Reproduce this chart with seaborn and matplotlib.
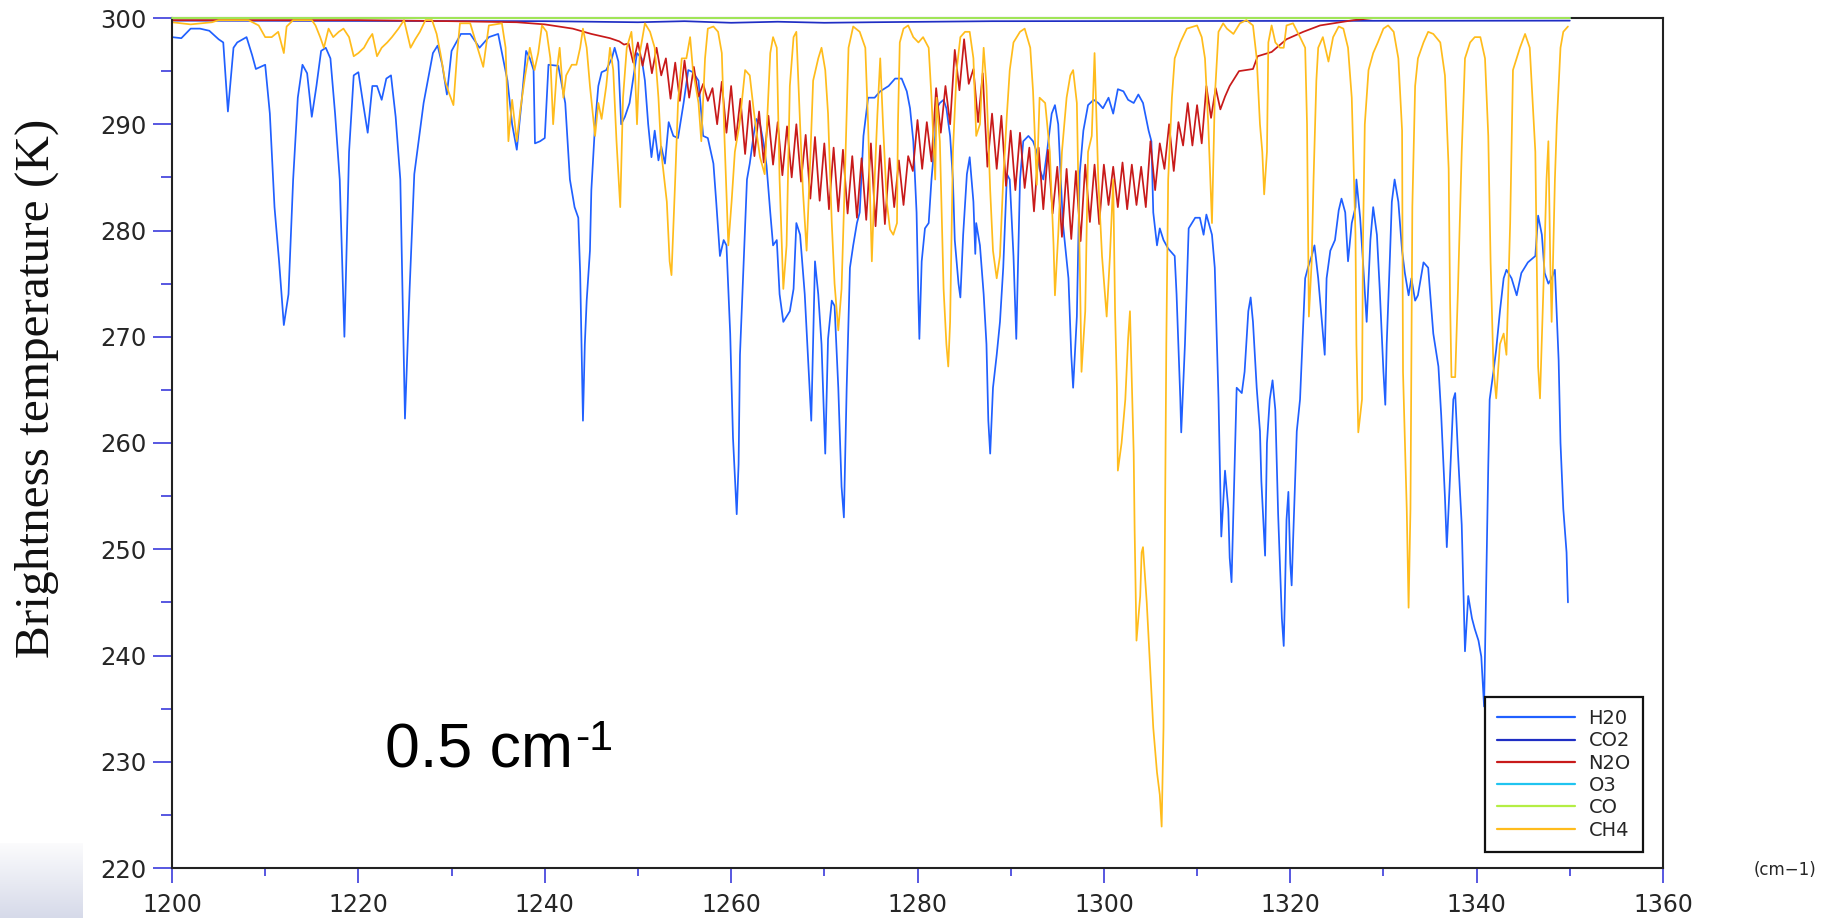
import matplotlib
matplotlib.use("Agg")
import numpy as np
import matplotlib.pyplot as plt
import seaborn as sns
from matplotlib.lines import Line2D
from matplotlib.ticker import MultipleLocator

# ---------------- data ----------------
h2o_wn = [1200.0, 1201.0, 1202.0, 1203.0, 1204.0, 1205.0, 1205.5, 1206.0, 1206.6, 1207.0, 1208.0, 1208.6,
          1209.0, 1209.5, 1210.0, 1210.5, 1211.0, 1211.5, 1212.0, 1212.5, 1213.0, 1213.5, 1214.0, 1214.5,
          1215.0, 1215.5, 1216.0, 1216.5, 1217.0, 1217.5, 1218.0, 1218.5, 1219.0, 1219.5, 1220.0, 1220.5,
          1221.0, 1221.5, 1222.0, 1222.5, 1223.0, 1223.5, 1224.0, 1224.5, 1225.0, 1225.5, 1226.0, 1227.0,
          1228.0, 1228.5, 1229.0, 1229.5, 1230.0, 1231.0, 1232.0, 1233.0, 1234.0, 1235.0, 1236.0, 1236.5,
          1237.0, 1237.5, 1238.0, 1238.4, 1238.8, 1238.95, 1239.5, 1240.0, 1240.4, 1241.45, 1242.2, 1242.7,
          1243.2, 1243.6, 1243.8, 1244.0, 1244.1, 1244.3, 1244.5, 1244.85, 1245.0, 1245.4, 1245.75, 1246.1,
          1246.6, 1247.2, 1247.5, 1247.9, 1248.2, 1248.6, 1249.1, 1249.9, 1250.4, 1250.75, 1251.1, 1251.45,
          1251.8, 1252.2, 1252.5, 1252.9, 1253.3, 1253.8, 1254.3, 1254.9, 1255.4, 1255.9, 1256.5, 1257.0,
          1257.5, 1258.1, 1258.4, 1258.8, 1259.2, 1259.5, 1259.9, 1260.2, 1260.6, 1260.8, 1260.95, 1261.3,
          1261.7, 1262.0, 1262.4, 1262.7, 1263.1, 1263.45, 1263.8, 1264.2, 1264.5, 1264.9, 1265.2, 1265.6,
          1266.3, 1266.7, 1267.0, 1267.4, 1267.9, 1268.3, 1268.6, 1269.0, 1269.35, 1269.7, 1270.1, 1270.4,
          1270.8, 1271.1, 1271.5, 1271.85, 1272.1, 1272.4, 1272.75, 1273.1, 1273.5, 1273.8, 1274.2, 1274.7,
          1275.4, 1276.0, 1276.9, 1277.6, 1278.3, 1278.85, 1279.2, 1279.55, 1279.9, 1280.1, 1280.2, 1280.45,
          1280.8, 1281.2, 1281.5, 1281.9, 1282.05, 1282.4, 1282.8, 1283.1, 1283.5, 1283.8, 1284.0, 1284.4,
          1284.6, 1284.9, 1285.3, 1285.6, 1286.0, 1286.2, 1286.3, 1286.7, 1287.1, 1287.4, 1287.6, 1287.8,
          1288.1, 1288.5, 1288.85, 1289.2, 1289.6, 1289.9, 1290.3, 1290.6, 1291.0, 1291.35, 1291.9, 1292.4,
          1292.8, 1293.1, 1293.5, 1293.9, 1294.4, 1294.75, 1295.1, 1295.6, 1296.2, 1296.5, 1296.7, 1297.1,
          1297.4, 1297.8, 1298.3, 1298.9, 1299.4, 1299.9, 1300.5, 1301.0, 1301.5, 1302.1, 1302.6, 1303.2,
          1303.7, 1304.2, 1304.8, 1305.1, 1305.3, 1305.7, 1306.0, 1306.4, 1306.9, 1307.6, 1307.8, 1308.2,
          1308.3, 1308.7, 1309.1, 1309.8, 1310.3, 1310.7, 1311.0, 1311.6, 1311.9, 1312.3, 1312.6, 1313.0,
          1313.35, 1313.5, 1313.7, 1314.1, 1314.25, 1314.8, 1315.1, 1315.5, 1315.75, 1316.0, 1316.4, 1316.75,
          1316.9, 1317.3, 1317.5, 1317.8, 1318.1, 1318.4, 1318.7, 1319.1, 1319.3, 1319.4, 1319.6, 1319.8,
          1320.0, 1320.15, 1320.3, 1320.7, 1321.05, 1321.2, 1321.6, 1321.9, 1322.3, 1322.6, 1323.0, 1323.4,
          1323.7, 1323.9, 1324.3, 1324.8, 1325.2, 1325.5, 1325.9, 1326.2, 1326.6, 1327.0, 1327.1, 1327.5,
          1327.8, 1328.2, 1328.6, 1328.9, 1329.3, 1329.6, 1330.0, 1330.2, 1330.35, 1330.7, 1330.9, 1331.2,
          1331.6, 1332.0, 1332.3, 1332.7, 1333.0, 1333.4, 1333.7, 1334.3, 1334.8, 1335.35, 1335.9, 1336.2,
          1336.6, 1336.8, 1337.1, 1337.5, 1337.7, 1338.0, 1338.4, 1338.75, 1339.1, 1339.5, 1339.8, 1340.2,
          1340.5, 1340.8, 1341.1, 1341.25, 1341.4, 1341.8, 1342.1, 1342.5, 1342.9, 1343.2, 1343.75, 1344.3,
          1344.8, 1345.5, 1346.3, 1346.6, 1347.0, 1347.3, 1347.7, 1348.05, 1348.4, 1348.8, 1349.0, 1349.3,
          1349.65, 1349.8]
h2o_bt = [298.2, 298.1, 299.0, 299.0, 298.8, 298.0, 297.7, 291.2, 297.2, 297.7, 298.2, 296.5,
          295.2, 295.4, 295.6, 291.0, 282.2, 277.0, 271.1, 274.0, 284.8, 292.5, 295.6, 294.8,
          290.7, 293.6, 296.9, 297.2, 296.2, 291.0, 284.8, 270.0, 287.4, 294.6, 294.9, 292.0,
          289.2, 293.6, 293.6, 292.3, 294.3, 294.6, 290.7, 284.8, 262.3, 274.5, 285.3, 292.0,
          296.7, 297.4, 295.6, 292.8, 296.9, 298.5, 298.5, 297.2, 298.2, 298.5, 294.1, 290.0,
          287.6, 292.0, 296.9, 296.2, 295.1, 288.2, 288.4, 288.7, 295.6, 295.5, 292.0, 284.8,
          282.2, 281.2, 276.0, 266.7, 262.1, 269.3, 273.4, 278.1, 283.8, 290.0, 293.6, 294.9,
          295.1, 296.2, 297.2, 295.9, 290.0, 290.7, 292.0, 296.7, 296.2, 294.1, 290.0, 286.9,
          289.4, 286.6, 287.9, 286.3, 290.2, 288.9, 288.7, 292.0, 295.1, 294.9, 294.1, 288.9,
          288.7, 286.3, 282.7, 277.6, 279.1, 278.6, 270.3, 260.5, 253.3, 258.0, 268.3, 276.0,
          284.8, 286.3, 288.9, 290.5, 290.0, 288.4, 286.1, 281.7, 278.6, 279.1, 274.0, 271.4,
          272.4, 274.5, 280.7, 279.6, 274.0, 267.2, 262.1, 277.1, 274.0, 269.3, 259.0, 269.8,
          273.4, 272.9, 265.2, 255.9, 253.0, 265.2, 276.5, 278.6, 280.7, 281.7, 288.9, 292.5,
          292.5, 293.1, 293.6, 294.3, 294.3, 293.1, 291.5, 288.4, 281.7, 273.4, 269.8, 277.1,
          280.2, 280.7, 284.8, 288.9, 291.5, 292.0, 292.3, 291.5, 288.9, 284.8, 279.1, 275.0,
          273.7, 279.6, 285.3, 286.9, 282.7, 277.8, 280.7, 278.6, 274.0, 269.3, 262.1, 259.0,
          265.2, 268.3, 271.4, 276.5, 285.3, 284.8, 277.6, 269.8, 284.8, 288.4, 288.9, 288.4,
          287.4, 285.8, 284.8, 287.4, 291.0, 291.8, 290.0, 280.7, 275.5, 268.3, 265.2, 271.9,
          285.3, 289.4, 291.8, 292.3, 292.0, 291.5, 292.5, 291.0, 293.3, 293.1, 292.3, 292.0,
          292.8, 292.0, 289.4, 288.4, 281.7, 278.6, 280.2, 279.1, 278.3, 277.6, 274.0, 264.2,
          261.0, 269.3, 280.2, 281.2, 281.2, 279.6, 281.5, 279.6, 276.5, 264.2, 251.2, 257.4,
          253.8, 249.2, 246.9, 260.5, 265.2, 264.7, 266.7, 272.4, 273.7, 271.4, 265.2, 261.1,
          256.4, 249.4, 260.0, 264.1, 265.9, 263.1, 253.3, 243.5, 240.9, 244.5, 252.8, 255.4,
          248.7, 246.6, 250.7, 261.1, 264.1, 267.2, 275.5, 276.5, 277.6, 278.6, 275.5, 271.4,
          268.3, 275.5, 278.1, 279.1, 281.9, 283.0, 281.7, 277.1, 280.7, 282.2, 284.8, 281.2,
          277.1, 271.4, 279.1, 282.2, 279.6, 274.5, 266.7, 263.6, 269.3, 277.6, 282.7, 284.8,
          282.7, 278.1, 276.0, 273.9, 275.5, 273.4, 273.9, 277.0, 276.5, 270.3, 267.2, 262.6,
          254.9, 250.2, 255.9, 264.1, 264.7, 259.0, 252.3, 240.4, 245.6, 243.5, 242.5, 241.4,
          239.9, 235.2, 250.2, 257.9, 264.1, 266.7, 268.8, 272.4, 275.5, 276.3, 275.5, 273.9,
          276.0, 277.0, 277.6, 281.4, 279.6, 276.0, 275.0, 275.5, 276.3, 267.8, 260.0, 253.8,
          249.7, 245.0]

co2_wn = [1200.0, 1240.0, 1250.0, 1255.0, 1260.0, 1265.0, 1270.0, 1275.0, 1288.0, 1350.0]
co2_bt = [299.75, 299.7, 299.6, 299.7, 299.55, 299.65, 299.55, 299.6, 299.7, 299.75]

n2o_wn = [1200.0, 1210.0, 1220.0, 1230.0, 1237.0, 1240.0, 1243.0, 1245.0, 1247.0, 1248.0, 1248.5,
          1249.0, 1249.5, 1250.0, 1250.5, 1251.0, 1251.5, 1252.0, 1252.5, 1253.0, 1253.5, 1254.0, 1254.5,
          1255.0, 1255.5, 1256.0, 1256.5, 1257.0, 1257.5, 1258.0, 1258.5, 1259.0, 1259.5, 1260.0, 1260.5,
          1261.0, 1261.5, 1262.0, 1262.5, 1263.0, 1263.5, 1264.0, 1264.5, 1265.0, 1265.5, 1266.0, 1266.5,
          1267.0, 1267.5, 1268.0, 1268.5, 1269.0, 1269.5, 1270.0, 1270.5, 1271.0, 1271.5, 1272.0, 1272.5,
          1273.0, 1273.5, 1274.0, 1274.5, 1275.0, 1275.5, 1276.0, 1276.5, 1277.0, 1277.5, 1278.0, 1278.5,
          1279.0, 1279.5, 1280.0, 1280.5, 1281.0, 1281.5, 1282.0, 1282.5, 1283.0, 1283.5, 1284.0, 1284.5,
          1285.0, 1285.5, 1286.0, 1286.5, 1287.0, 1287.5, 1288.0, 1288.5, 1289.0, 1289.5, 1290.0, 1290.5,
          1291.0, 1291.5, 1292.0, 1292.5, 1293.0, 1293.5, 1294.0, 1294.5, 1295.0, 1295.5, 1296.0, 1296.5,
          1297.0, 1297.5, 1298.0, 1298.5, 1299.0, 1299.5, 1300.0, 1300.5, 1301.0, 1301.5, 1302.0, 1302.5,
          1303.0, 1303.5, 1304.0, 1304.5, 1305.0, 1305.5, 1306.0, 1306.5, 1307.0, 1307.5, 1308.0, 1308.5,
          1309.0, 1309.5, 1310.0, 1310.5, 1311.0, 1311.5, 1312.0, 1312.5, 1313.0, 1313.5, 1314.5, 1316.0,
          1316.5, 1318.0, 1319.6, 1321.4, 1323.2, 1326.8, 1329.0, 1350.0]
n2o_bt = [299.8, 299.8, 299.8, 299.7, 299.6, 299.4, 299.0, 298.5, 298.1, 297.8, 297.5,
          297.6, 295.8, 297.7, 295.5, 297.6, 294.8, 297.2, 294.6, 296.2, 292.4, 295.8, 292.2,
          296.0, 292.5, 295.4, 292.6, 293.8, 292.2, 293.4, 290.0, 294.0, 289.2, 293.6, 288.5,
          292.4, 287.2, 292.2, 287.0, 291.2, 286.4, 290.8, 286.2, 290.2, 285.2, 289.8, 285.0,
          290.0, 284.6, 289.0, 283.0, 288.8, 282.8, 288.2, 282.0, 287.8, 281.8, 287.6, 281.6,
          287.0, 281.2, 286.8, 281.0, 288.2, 280.4, 288.0, 280.6, 286.8, 282.2, 286.6, 282.4,
          287.0, 285.6, 290.4, 285.8, 290.2, 286.5, 293.4, 289.2, 293.6, 290.0, 297.0, 293.2,
          298.0, 293.8, 295.2, 290.2, 294.8, 286.0, 291.0, 285.8, 290.8, 284.2, 289.4, 283.8,
          289.2, 284.0, 287.8, 281.8, 287.8, 282.0, 287.6, 281.6, 286.0, 279.4, 285.8, 279.2,
          285.6, 279.0, 286.2, 280.8, 286.2, 280.6, 286.2, 282.4, 286.0, 282.2, 286.4, 282.0,
          286.2, 282.4, 286.0, 282.2, 288.4, 283.8, 288.2, 285.8, 290.0, 285.6, 290.2, 288.0,
          292.0, 288.0, 291.8, 288.2, 293.6, 290.6, 293.4, 291.4, 292.6, 293.6, 295.0, 295.2,
          296.4, 296.8, 298.0, 298.7, 299.3, 299.8, 300.0, 300.0]

o3_wn = [1200.0, 1350.0]
o3_bt = [300.0, 300.0]

co_wn = [1200.0, 1350.0]
co_bt = [300.0, 300.0]

ch4_wn = [1200.0, 1202.0, 1204.3, 1205.0, 1208.2, 1209.3, 1210.0, 1210.7, 1211.4, 1212.0, 1212.3, 1213.0,
          1215.0, 1215.4, 1215.9, 1216.3, 1216.8, 1217.3, 1217.9, 1218.4, 1219.0, 1219.5, 1220.0, 1220.6,
          1221.1, 1221.5, 1222.0, 1222.5, 1223.1, 1223.6, 1224.3, 1224.9, 1225.6, 1226.1, 1226.6, 1227.2,
          1227.9, 1228.4, 1228.8, 1229.3, 1229.7, 1230.2, 1230.6, 1230.9, 1232.0, 1233.4, 1234.0, 1235.4,
          1235.8, 1236.1, 1236.5, 1237.0, 1237.4, 1237.9, 1238.4, 1238.9, 1239.3, 1239.7, 1240.2, 1240.6,
          1240.9, 1241.3, 1241.6, 1242.0, 1242.3, 1242.9, 1243.4, 1243.8, 1244.1, 1244.5, 1244.85, 1245.4,
          1245.75, 1246.1, 1246.6, 1247.0, 1247.35, 1247.7, 1248.1, 1248.4, 1248.8, 1249.3, 1249.7, 1249.9,
          1250.2, 1250.75, 1251.3, 1251.8, 1252.2, 1252.5, 1253.1, 1253.4, 1253.6, 1254.0, 1254.3, 1254.7,
          1255.2, 1255.6, 1255.9, 1256.5, 1256.8, 1257.2, 1257.5, 1258.1, 1258.6, 1259.0, 1259.3, 1259.7,
          1260.05, 1260.4, 1260.9, 1261.5, 1262.0, 1262.4, 1262.7, 1263.1, 1263.6, 1264.2, 1264.5, 1264.9,
          1265.2, 1265.6, 1265.95, 1266.3, 1266.7, 1267.0, 1267.4, 1267.7, 1268.1, 1268.5, 1268.8, 1269.35,
          1269.7, 1270.1, 1270.4, 1270.8, 1271.1, 1271.5, 1271.85, 1272.2, 1272.6, 1273.1, 1273.8, 1274.4,
          1274.7, 1275.1, 1275.4, 1275.7, 1276.0, 1276.3, 1276.7, 1277.05, 1277.4, 1277.8, 1277.9, 1278.1,
          1278.5, 1279.0, 1279.55, 1280.1, 1280.6, 1281.2, 1281.5, 1281.9, 1282.05, 1282.4, 1282.8, 1283.1,
          1283.3, 1283.5, 1283.8, 1284.2, 1284.6, 1285.1, 1285.6, 1286.0, 1286.3, 1286.7, 1287.1, 1287.4,
          1287.8, 1288.1, 1288.5, 1288.85, 1289.2, 1289.6, 1289.9, 1290.3, 1291.0, 1291.5, 1292.1, 1292.4,
          1292.8, 1293.1, 1293.7, 1294.2, 1294.6, 1294.75, 1295.1, 1295.5, 1296.0, 1296.4, 1296.7, 1297.1,
          1297.4, 1297.6, 1298.0, 1298.3, 1298.7, 1299.0, 1299.4, 1299.8, 1300.3, 1300.65, 1301.0, 1301.2,
          1301.4, 1301.5, 1301.9, 1302.3, 1302.6, 1302.8, 1303.2, 1303.3, 1303.5, 1303.9, 1304.05, 1304.2,
          1304.6, 1304.9, 1305.3, 1305.7, 1306.0, 1306.2, 1306.4, 1306.55, 1306.7, 1306.9, 1307.3, 1307.6,
          1308.2, 1308.9, 1310.0, 1310.5, 1310.85, 1311.2, 1311.6, 1311.9, 1312.3, 1312.8, 1313.2, 1313.9,
          1314.6, 1315.3, 1316.0, 1316.4, 1316.75, 1317.0, 1317.2, 1317.5, 1317.65, 1318.0, 1318.4, 1318.9,
          1319.3, 1319.6, 1320.3, 1321.05, 1321.6, 1321.8, 1322.0, 1322.3, 1322.5, 1322.8, 1323.0, 1323.5,
          1324.1, 1324.6, 1325.2, 1325.7, 1326.2, 1326.6, 1327.0, 1327.1, 1327.3, 1327.7, 1327.8, 1328.0,
          1328.4, 1328.9, 1329.4, 1330.0, 1330.5, 1331.1, 1331.6, 1332.0, 1332.1, 1332.5, 1332.7, 1332.9,
          1333.1, 1333.4, 1333.7, 1334.3, 1334.8, 1335.35, 1336.1, 1336.6, 1337.0, 1337.15, 1337.3, 1337.7,
          1338.0, 1338.4, 1338.75, 1339.3, 1339.8, 1340.4, 1340.9, 1341.25, 1341.5, 1341.8, 1342.1, 1342.5,
          1342.9, 1343.2, 1343.6, 1343.9, 1344.65, 1345.2, 1345.7, 1346.3, 1346.6, 1346.8, 1347.2, 1347.5,
          1347.7, 1347.9, 1348.05, 1348.2, 1348.4, 1348.6, 1349.0, 1349.3, 1349.8]
ch4_bt = [299.6, 299.4, 299.6, 299.8, 299.8, 299.3, 298.2, 298.2, 298.7, 296.7, 299.2, 299.8,
          299.8, 299.3, 298.2, 297.2, 299.0, 298.2, 298.7, 299.0, 298.2, 296.4, 296.7, 297.2,
          298.0, 298.5, 296.4, 297.2, 297.7, 298.2, 299.0, 299.8, 297.2, 298.0, 298.7, 299.8,
          299.8, 298.5, 296.7, 294.1, 293.0, 291.8, 296.7, 299.5, 299.5, 295.4, 299.3, 299.5,
          297.2, 288.4, 292.3, 288.4, 291.5, 294.6, 297.2, 295.1, 296.7, 299.3, 298.7, 296.2,
          290.0, 295.1, 297.2, 292.5, 294.6, 295.6, 295.6, 297.2, 299.0, 297.2, 293.6, 288.9,
          292.0, 290.5, 293.6, 297.2, 295.1, 288.4, 282.2, 292.5, 297.2, 298.7, 294.6, 290.0,
          296.7, 299.5, 298.7, 297.2, 292.5, 287.4, 282.7, 277.1, 275.8, 284.8, 292.0, 296.2,
          296.2, 298.2, 295.1, 292.0, 288.4, 296.2, 299.0, 299.2, 298.7, 296.7, 288.4, 278.6,
          282.7, 287.4, 290.0, 295.1, 294.6, 291.5, 289.4, 286.9, 285.3, 296.7, 298.2, 297.2,
          284.8, 274.5, 278.6, 293.6, 298.2, 298.7, 290.0, 283.8, 278.1, 286.9, 294.1, 296.2,
          297.2, 295.1, 291.0, 280.7, 275.0, 270.6, 274.5, 284.8, 297.2, 299.2, 298.7, 297.2,
          290.0, 277.1, 284.8, 291.0, 296.2, 290.0, 282.7, 280.1, 279.6, 280.7, 290.0, 297.7,
          299.0, 299.3, 298.2, 297.7, 298.2, 297.2, 292.5, 284.8, 292.5, 288.4, 274.5, 269.3,
          267.2, 271.4, 287.4, 295.1, 298.2, 298.7, 298.7, 296.2, 288.9, 290.0, 297.2, 293.6,
          283.8, 278.1, 275.5, 277.6, 284.8, 291.0, 295.1, 297.7, 298.7, 299.0, 297.2, 293.1,
          284.3, 292.5, 292.0, 287.4, 278.6, 273.9, 279.6, 287.4, 292.5, 294.6, 295.1, 292.0,
          277.6, 266.7, 272.4, 287.4, 288.9, 296.7, 284.8, 277.6, 271.9, 277.6, 284.8, 272.4,
          265.2, 257.4, 260.0, 264.1, 269.8, 272.4, 259.0, 251.8, 241.4, 245.6, 249.7, 250.2,
          245.0, 239.9, 233.2, 229.0, 226.9, 223.9, 233.2, 251.8, 269.3, 284.8, 292.5, 296.2,
          297.7, 299.0, 299.3, 298.2, 296.2, 290.0, 280.7, 292.5, 298.7, 299.5, 299.0, 298.5,
          299.5, 299.8, 299.3, 296.2, 290.0, 287.4, 283.4, 287.4, 297.7, 299.3, 297.7, 297.2,
          297.2, 299.3, 299.5, 298.2, 297.2, 290.0, 271.9, 277.1, 284.8, 294.1, 297.2, 298.2,
          295.9, 298.2, 299.2, 299.0, 297.2, 292.5, 279.6, 269.3, 261.0, 264.1, 278.6, 290.0,
          295.1, 296.7, 297.7, 299.0, 299.3, 298.7, 296.2, 289.4, 266.7, 253.8, 244.5, 253.8,
          282.2, 293.6, 296.2, 297.7, 298.7, 298.5, 297.7, 294.6, 285.8, 273.4, 266.2, 266.2,
          274.5, 287.4, 296.2, 297.7, 298.2, 298.2, 296.2, 288.9, 277.0, 267.2, 264.2, 269.3,
          270.3, 268.3, 280.7, 295.1, 297.2, 298.5, 297.2, 287.4, 267.2, 264.2, 275.5, 284.8,
          288.4, 277.1, 271.4, 277.1, 284.8, 290.0, 297.2, 298.7, 299.2]

species = ["H20", "CO2", "N2O", "O3", "CO", "CH4"]
colors = ["#2060ff", "#1f2ec4", "#c81a1a", "#20c4f0", "#b4ee44", "#ffbc1c"]

# ---------------- figure ----------------
sns.set_style("white")
plt.rcParams["font.family"] = ["DejaVu Sans"]

W, H = 1831, 918
fig = plt.figure(figsize=(W / 100, H / 100), dpi=100)
fig.patch.set_facecolor("white")

# faint slide gradient in the bottom-left corner
gax = fig.add_axes([0, 0, 83 / W, 75 / H])
grad = np.linspace(0, 1, 64)[:, None] * np.ones((1, 32))
top = np.array([0.985, 0.985, 0.99])
bot = np.array([0.84, 0.855, 0.915])
img = top[None, None, :] * (1 - grad[..., None]) + bot[None, None, :] * grad[..., None]
gax.imshow(img, aspect="auto", extent=[0, 1, 0, 1], origin="upper")
gax.axis("off")

ax = fig.add_axes([172 / W, 1 - 868 / H, (1663 - 172) / W, (868 - 18) / H])
ax.set_facecolor("white")

data = [(h2o_wn, h2o_bt), (co2_wn, co2_bt), (n2o_wn, n2o_bt),
        (o3_wn, o3_bt), (co_wn, co_bt), (ch4_wn, ch4_bt)]
for i, ((wn, bt), col) in enumerate(zip(data, colors)):
    sns.lineplot(x=wn, y=bt, ax=ax, color=col, lw=1.25, estimator=None,
                 sort=False, errorbar=None, legend=False)
    ln = ax.lines[-1]
    ln.set_zorder(2 + 0.1 * i)
    if species[i] in ("O3", "CO"):
        ln.set_clip_on(False)
        ln.set_zorder(3)

ax.set_xlim(1200, 1360)
ax.set_ylim(220, 300)
ax.xaxis.set_major_locator(MultipleLocator(20))
ax.xaxis.set_minor_locator(MultipleLocator(10))
ax.yaxis.set_major_locator(MultipleLocator(10))
ax.yaxis.set_minor_locator(MultipleLocator(5))
ax.set_xlabel("")
ax.set_ylabel("")

tick_col = "#2a2ad8"
ax.tick_params(axis="both", which="both", direction="out", color=tick_col,
               labelcolor="#262626", width=1.1, bottom=True, left=True, top=False, right=False)
ax.tick_params(axis="y", which="major", length=13.7, pad=4.5, labelsize=17.5)
ax.tick_params(axis="y", which="minor", length=7.9)
ax.tick_params(axis="x", which="major", length=10.8, pad=7, labelsize=17)
ax.tick_params(axis="x", which="minor", length=5.8)
for s in ax.spines.values():
    s.set_color("#222222")
    s.set_linewidth(1.5)
    s.set_visible(True)

# y label (serif) and x unit label
fig.text(37 / W, 1 - 388 / H, "Brightness temperature (K)", rotation=90,
         ha="center", va="center", fontsize=35.5, family=["Liberation Serif", "DejaVu Serif"],
         color="#111111")
fig.text(1785 / W, 1 - 870 / H, "(cm\u22121)", ha="center", va="center",
         fontsize=12, color="#262626")

# resolution annotation
fig.text(385 / W, 1 - 768 / H, "0.5 cm", ha="left", va="baseline",
         fontsize=45, family=["Liberation Sans", "DejaVu Sans"], color="black")
fig.text(575 / W, 1 - 750 / H, "-1", ha="left", va="baseline",
         fontsize=31, family=["Liberation Sans", "DejaVu Sans"], color="black")

# legend
handles = [Line2D([0], [0], color=c, lw=1.6) for c in colors]
leg = ax.legend(handles, species, loc="upper left",
                bbox_to_anchor=(1485 / W, 1 - 697 / H), bbox_transform=fig.transFigure,
                fontsize=14, handlelength=4.0, handletextpad=0.7, borderpad=0.62,
                labelspacing=0.17, frameon=True, fancybox=False, framealpha=1,
                borderaxespad=0)
leg.get_frame().set_edgecolor("#111111")
leg.get_frame().set_linewidth(1.6)
for t in leg.get_texts():
    t.set_color("#262626")

fig.savefig("out.png", dpi=100, facecolor="white")
